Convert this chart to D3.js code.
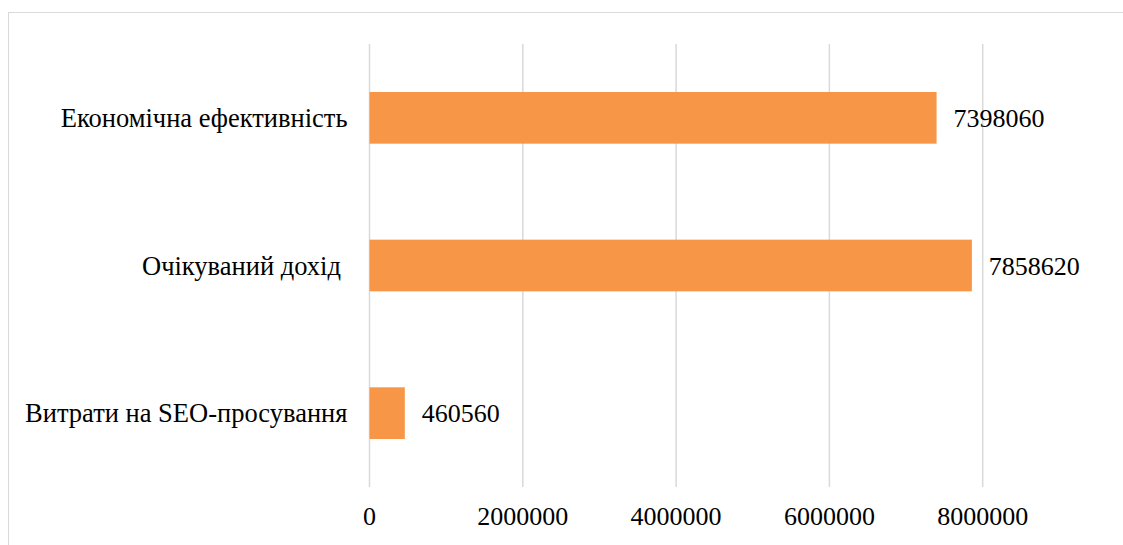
<!DOCTYPE html>
<html>
<head>
<meta charset="utf-8">
<script src="https://cdn.jsdelivr.net/npm/d3@7"></script>
<style>
  body { margin: 0; background: #fff; }
</style>
</head>
<body>
<div id="chart"></div>
<script>
// data (top to bottom)
const categories = ["Економічна ефективність", "Очікуваний дохід ", "Витрати на SEO-просування"];
const values = [7398060, 7858620, 460560];
const tickValues = [0, 2000000, 4000000, 6000000, 8000000];

const W = 1123, H = 545;
const margin = {top: 44, right: 140, bottom: 58, left: 369.5};
const font = "'Liberation Serif', 'Times New Roman', Times, serif";

const svg = d3.select("#chart").append("svg")
    .attr("width", W).attr("height", H)
    .attr("font-family", font);

// outer chart frame
svg.append("rect")
    .attr("x", 8.5).attr("y", 12.5)
    .attr("width", W).attr("height", H)
    .attr("fill", "none").attr("stroke", "#d9d9d9").attr("stroke-width", 1);

const x = d3.scaleLinear().domain([0, 8000000]).range([margin.left, 982.7]);
const y = d3.scaleBand().domain(categories).range([margin.top, H - margin.bottom]).paddingInner(0.65).paddingOuter(0.325);

// gridlines
svg.append("g").selectAll("line").data(tickValues).join("line")
    .attr("x1", d => x(d)).attr("x2", d => x(d))
    .attr("y1", margin.top).attr("y2", H - margin.bottom)
    .attr("stroke", "#d9d9d9").attr("stroke-width", 1.5);

// bars
svg.append("g").selectAll("rect").data(values).join("rect")
    .attr("x", x(0))
    .attr("y", (d, i) => y(categories[i]))
    .attr("width", d => x(d) - x(0))
    .attr("height", y.bandwidth())
    .attr("fill", "#f79646");

// value labels
svg.append("g").selectAll("text").data(values).join("text")
    .attr("x", d => x(d) + 17)
    .attr("y", (d, i) => y(categories[i]) + y.bandwidth() / 2)
    .attr("dy", "0.35em")
    .attr("font-size", 26)
    .text(d => d);

// category labels
svg.append("g").selectAll("text").data(categories).join("text")
    .attr("x", x(0) - 22)
    .attr("y", d => y(d) + y.bandwidth() / 2)
    .attr("dy", "0.35em")
    .attr("text-anchor", "end")
    .attr("font-size", 26.5)
    .style("white-space", "pre")
    .text(d => d);

// x axis tick labels
svg.append("g").selectAll("text").data(tickValues).join("text")
    .attr("x", d => x(d))
    .attr("y", 525)
    .attr("text-anchor", "middle")
    .attr("font-size", 26)
    .text(d => d);
</script>
</body>
</html>
